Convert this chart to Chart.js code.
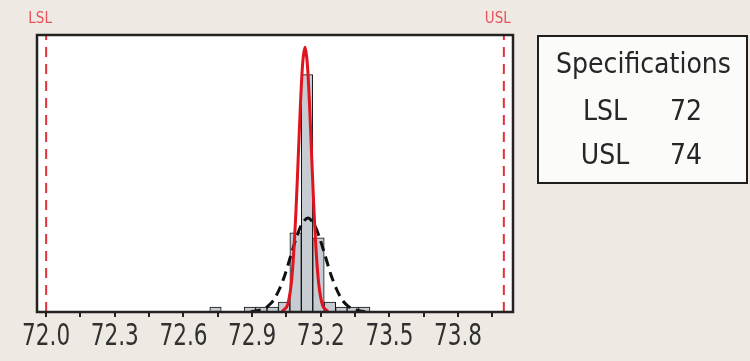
<!DOCTYPE html>
<html lang="en">
<head>
<meta charset="UTF-8">
<title>Process Capability</title>
<script src="https://cdn.jsdelivr.net/npm/chart.js"></script>
<style>
    html, body {
        margin: 0;
        padding: 0;
        background: #eeeae3;
    }
    #wrap {
        position: relative;
        width: 750px;
        height: 361px;
    }
    canvas {
        position: absolute;
        left: 0;
        top: 0;
    }
    .spec-box {
        position: absolute;
        left: 537px;
        top: 35px;
        width: 207px;
        height: 145px;
        border: 2px solid #1e1e1e;
        background: #fbfbfa;
    }
    .spec {
        position: absolute;
        font: 28px "DejaVu Sans Condensed", "DejaVu Sans", sans-serif;
        line-height: 28px;
        color: #262626;
        white-space: nowrap;
        text-align: center;
    }
</style>
</head>
<body>
<div id="wrap">
    <canvas id="capChart" width="750" height="361"></canvas>
    <div class="spec-box"></div>
    <div class="spec" style="left:537px; width:213px; top:50px;">Specifications</div>
    <div class="spec" style="left:565px; width:80px; top:97px;">LSL</div>
    <div class="spec" style="left:656px; width:60px; top:97px;">72</div>
    <div class="spec" style="left:565px; width:80px; top:141px;">USL</div>
    <div class="spec" style="left:656px; width:60px; top:141px;">74</div>
</div>

<script>
    // spec limits
    const LSL = 72;
    const USL = 74;

    // histogram bins (centres) and counts
    const binCenters = [72.74, 72.79, 72.84, 72.89, 72.94, 72.99, 73.04, 73.09, 73.14, 73.19, 73.24, 73.29, 73.34, 73.39];
    const binCounts  = [1, null, null, 1, 1, 1, 2, 16, 48, 15, 2, 1, 1, 1];

    // within curve (solid red)
    const withinX = [73.031, 73.051, 73.061, 73.071, 73.081, 73.091, 73.101, 73.111, 73.121, 73.131,
                     73.141, 73.151, 73.161, 73.171, 73.181, 73.191, 73.201, 73.211, 73.231];
    const withinY = [0.1, 1.0, 2.6, 5.7, 11.4, 19.9, 30.6, 41.8, 50.3, 53.5,
                     50.3, 41.8, 30.6, 19.9, 11.4, 5.7, 2.6, 1.0, 0.1];

    // overall curve (dashed black)
    const overallX = [72.894, 72.944, 72.969, 72.994, 73.019, 73.044, 73.069, 73.094, 73.119, 73.144,
                      73.169, 73.194, 73.219, 73.244, 73.269, 73.294, 73.319, 73.344, 73.394];
    const overallY = [0.06, 0.5, 1.2, 2.4, 4.6, 7.6, 11.4, 15.1, 17.9, 19.0,
                      17.9, 15.1, 11.4, 7.6, 4.6, 2.4, 1.2, 0.5, 0.06];

    // x axis ticks, labelled every other one
    const tickValues = [72.0, 72.15, 72.3, 72.45, 72.6, 72.75, 72.9, 73.05, 73.2, 73.35, 73.5, 73.65, 73.8, 73.95];
    const tickLabels = ['72.0', '', '72.3', '', '72.6', '', '72.9', '', '73.2', '', '73.5', '', '73.8', ''];

    const Y_MAX = 56;
    const COND = '"DejaVu Sans Condensed", "DejaVu Sans", sans-serif';

    function pts(xs, ys) {
        return xs.map((x, i) => ({x: x, y: ys[i]}));
    }

    // background + white plot area, frame, LSL/USL captions and the tall x labels
    const framePlugin = {
        id: 'frame',
        beforeDraw(chart) {
            const {ctx, chartArea: a} = chart;
            ctx.save();
            ctx.fillStyle = '#eeeae3';
            ctx.fillRect(0, 0, chart.width, chart.height);
            ctx.fillStyle = '#ffffff';
            ctx.fillRect(a.left, a.top, a.right - a.left, a.bottom - a.top);
            ctx.restore();
        },
        afterDatasetsDraw(chart) {
            const {ctx, chartArea: a} = chart;
            const xs = chart.scales.x;
            ctx.save();
            ctx.strokeStyle = '#222';
            ctx.lineWidth = 2.5;
            ctx.strokeRect(a.left, a.top, a.right - a.left, a.bottom - a.top);

            ctx.fillStyle = '#e8505a';
            ctx.font = '15px ' + COND;
            ctx.textAlign = 'center';
            ctx.textBaseline = 'alphabetic';
            ctx.fillText('LSL', xs.getPixelForValue(LSL) - 6, 23);
            ctx.fillText('USL', xs.getPixelForValue(USL) - 6, 23);

            // tick labels, stretched vertically like the original axis font
            ctx.fillStyle = '#303030';
            ctx.font = '24px ' + COND;
            tickValues.forEach((v, i) => {
                if (!tickLabels[i]) return;
                ctx.save();
                ctx.translate(xs.getPixelForValue(v), 345);
                ctx.scale(1, 1.25);
                ctx.fillText(tickLabels[i], 0, 0);
                ctx.restore();
            });
            ctx.restore();
        }
    };

    const ctx = document.getElementById('capChart').getContext('2d');
    const capChart = new Chart(ctx, {
        type: 'bar',
        data: {
            datasets: [
                {
                    label: 'LSL',
                    type: 'line',
                    data: [{x: LSL, y: 0}, {x: LSL, y: Y_MAX}],
                    borderColor: '#e0323c',
                    borderWidth: 2,
                    borderDash: [10, 7],
                    pointRadius: 0,
                    order: 1
                },
                {
                    label: 'USL',
                    type: 'line',
                    data: [{x: USL, y: 0}, {x: USL, y: Y_MAX}],
                    borderColor: '#e0323c',
                    borderWidth: 2,
                    borderDash: [10, 7],
                    pointRadius: 0,
                    order: 1
                },
                {
                    label: 'Within',
                    type: 'line',
                    data: pts(withinX, withinY),
                    borderColor: '#e0141e',
                    borderWidth: 3,
                    pointRadius: 0,
                    tension: 0.3,
                    order: 2
                },
                {
                    label: 'Overall',
                    type: 'line',
                    data: pts(overallX, overallY),
                    borderColor: '#111111',
                    borderWidth: 3,
                    borderDash: [10, 6],
                    pointRadius: 0,
                    tension: 0.3,
                    order: 3
                },
                {
                    label: 'Data',
                    data: pts(binCenters, binCounts),
                    backgroundColor: '#c6ccd2',
                    borderColor: '#111111',
                    borderWidth: 1,
                    barPercentage: 1,
                    categoryPercentage: 1,
                    order: 4
                }
            ]
        },
        options: {
            responsive: false,
            animation: false,
            layout: {
                padding: {left: 37, right: 237, top: 35, bottom: 44}
            },
            plugins: {
                legend: {display: false},
                tooltip: {enabled: false}
            },
            scales: {
                x: {
                    type: 'linear',
                    min: 71.96,
                    max: 74.04,
                    offset: false,
                    afterBuildTicks(scale) {
                        scale.ticks = tickValues.map(v => ({value: v}));
                    },
                    ticks: {display: false},
                    grid: {
                        offset: false,
                        drawOnChartArea: false,
                        drawTicks: true,
                        tickLength: 5,
                        color: '#222',
                        lineWidth: 2
                    },
                    border: {display: true, color: '#222', width: 2}
                },
                y: {
                    display: false,
                    min: 0,
                    max: Y_MAX
                }
            }
        },
        plugins: [framePlugin]
    });
</script>
</body>
</html>
